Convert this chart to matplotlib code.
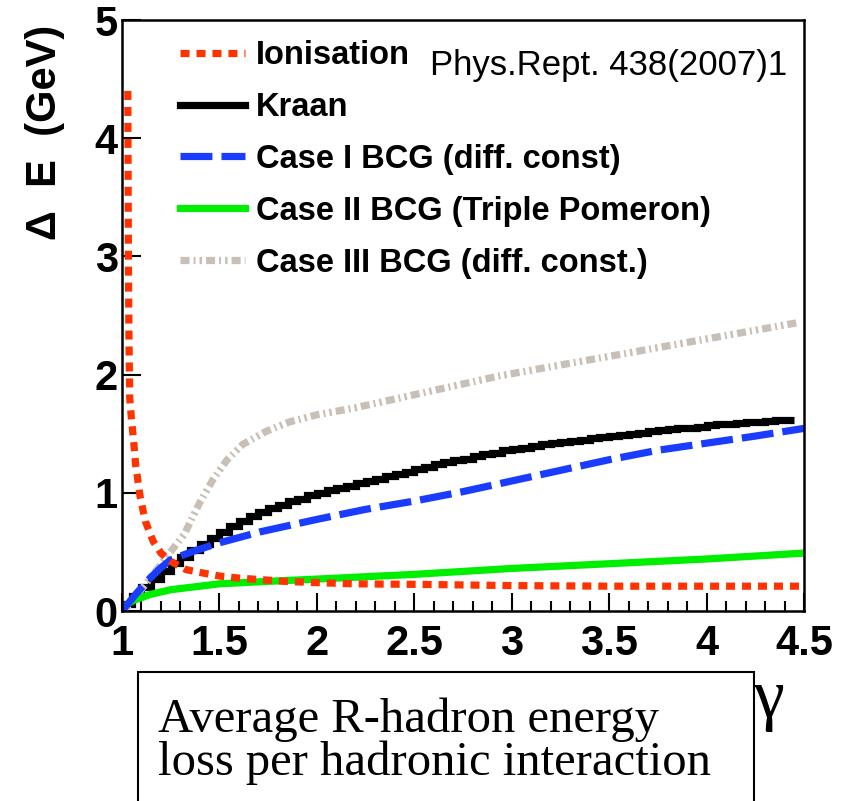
import numpy as np
import matplotlib
matplotlib.use("Agg")
import matplotlib.pyplot as plt
from matplotlib.lines import Line2D
from matplotlib.patches import Rectangle

plt.rcParams["lines.scale_dashes"] = False

SANS = ["Liberation Sans", "DejaVu Sans"]
SERIF = ["Liberation Serif", "DejaVu Serif"]

# --- data ---
ion_x = [1.03, 1.033, 1.036, 1.04, 1.05, 1.06, 1.07, 1.094, 1.12, 1.16, 1.2,
         1.25, 1.33, 1.42, 1.5, 1.59, 1.67, 1.845, 2.0, 2.19, 2.53, 3.0,
         3.5, 4.0, 4.5]
ion_y = [4.4, 3.0, 2.3, 1.8, 1.6, 1.44, 1.24, 0.96, 0.76, 0.59, 0.49,
         0.42, 0.35, 0.32, 0.296, 0.28, 0.27, 0.25, 0.24, 0.23, 0.225, 0.215,
         0.21, 0.21, 0.21]

# Kraan histogram, 0.05 wide bins from 1.0 to 4.45
kraan_edges = np.linspace(1.0, 4.45, 70)
kraan_vals = [0.06, 0.13, 0.20, 0.27, 0.34, 0.41, 0.46, 0.52, 0.57, 0.62,
              0.67, 0.72, 0.76, 0.80, 0.84, 0.87, 0.90, 0.93, 0.95, 0.98,
              1.00, 1.02, 1.04, 1.06, 1.08, 1.10, 1.12, 1.14, 1.16, 1.18,
              1.20, 1.22, 1.24, 1.26, 1.28, 1.29, 1.31, 1.33, 1.34, 1.36,
              1.37, 1.38, 1.40, 1.41, 1.42, 1.43, 1.44, 1.45, 1.46, 1.47,
              1.48, 1.49, 1.50, 1.51, 1.52, 1.53, 1.54, 1.55, 1.55, 1.56,
              1.57, 1.58, 1.58, 1.59, 1.60, 1.60, 1.61, 1.62, 1.62]

case1_x = [1.0, 1.077, 1.145, 1.196, 1.247, 1.3, 1.37, 1.5, 1.71, 2.0,
           2.25, 2.5, 2.75, 3.0, 3.25, 3.5, 3.75, 4.0, 4.25, 4.5]
case1_y = [0.0, 0.154, 0.28, 0.36, 0.43, 0.465, 0.507, 0.577, 0.67, 0.775,
           0.86, 0.93, 1.01, 1.10, 1.19, 1.28, 1.36, 1.42, 1.48, 1.545]

case2_x = [1.0, 1.06, 1.094, 1.145, 1.25, 1.4, 1.5, 1.74, 2.0, 2.5, 3.0,
           3.5, 4.0, 4.5]
case2_y = [0.03, 0.09, 0.11, 0.14, 0.18, 0.21, 0.23, 0.25, 0.27, 0.31,
           0.36, 0.40, 0.44, 0.49]

case3_x = [1.0, 1.017, 1.094, 1.16, 1.23, 1.32, 1.4, 1.47, 1.54, 1.62, 1.74,
           1.86, 2.0, 2.2, 2.5, 2.94, 3.45, 3.96, 4.47]
case3_y = [0.0, 0.014, 0.17, 0.31, 0.46, 0.65, 0.92, 1.12, 1.28, 1.41, 1.52,
           1.60, 1.66, 1.72, 1.83, 1.99, 2.14, 2.29, 2.44]

labels = ["Ionisation", "Kraan", "Case I BCG (diff. const)",
          "Case II BCG (Triple Pomeron)", "Case III BCG (diff. const.)"]

x_ticks = [1, 1.5, 2, 2.5, 3, 3.5, 4, 4.5]
x_ticklabels = ["1", "1.5", "2", "2.5", "3", "3.5", "4", "4.5"]
y_ticks = [0, 1, 2, 3, 4, 5]

# --- styles ---
RED = "#ff3300"
BLUE = "#1a3cff"
GREEN = "#00ee00"
GRAY = "#c8bfb6"
LW = 5.2
red_dash = (0, (6.5, 5.0))
blue_dash = (0, (23.0, 6.5))
gray_dash = (0, (6.5, 2.9, 1.4, 2.9, 1.8, 2.9))

fig = plt.figure(figsize=(8.44, 8.01), dpi=100)
ax = fig.add_axes([0.1445, 0.2372, 0.8081, 0.7378])

ax.plot(case3_x, case3_y, color=GRAY, lw=LW, linestyle=gray_dash)
ax.plot(case2_x, case2_y, color=GREEN, lw=LW)
ax.stairs(kraan_vals, kraan_edges, baseline=None, color="black", lw=LW)
ax.plot(case1_x, case1_y, color=BLUE, lw=LW, linestyle=blue_dash)
ax.plot(ion_x, ion_y, color=RED, lw=LW, linestyle=red_dash)

ax.set_xlim(1, 4.5)
ax.set_ylim(0, 5)
ax.set_xticks(x_ticks)
ax.set_xticklabels(x_ticklabels)
ax.set_xticks(np.arange(1.1, 4.5, 0.1), minor=True)
ax.set_yticks(y_ticks)
ax.tick_params(axis="x", which="major", direction="in", length=13, width=1.5,
               pad=9, labelsize=30)
ax.tick_params(axis="x", which="minor", direction="in", length=7, width=1.5)
ax.tick_params(axis="y", which="major", direction="in", length=14, width=1.5,
               pad=3, labelsize=30)
for lab in ax.get_xticklabels() + ax.get_yticklabels():
    lab.set_family(SANS)
    lab.set_weight("bold")
for sp in ax.spines.values():
    sp.set_linewidth(1.8)

handles = [
    Line2D([], [], color=RED, lw=LW, linestyle=red_dash),
    Line2D([], [], color="black", lw=LW),
    Line2D([], [], color=BLUE, lw=LW, linestyle=blue_dash),
    Line2D([], [], color=GREEN, lw=LW),
    Line2D([], [], color=GRAY, lw=LW, linestyle=gray_dash),
]
ax.legend(handles, labels, loc="upper left", bbox_to_anchor=(0.085, 0.966),
          frameon=False, borderpad=0, borderaxespad=0, handlelength=2.0,
          handletextpad=0.34, labelspacing=0.64,
          prop={"family": SANS, "weight": "bold", "size": 23.5})

fig.text(430 / 844, 1 - 75 / 801, "Phys.Rept. 438(2007)1", family=SANS,
         fontsize=25, va="baseline", ha="left")

fig.text(45 / 844, 0.835, "\u0394  E  (GeV)", rotation=90, family=SANS,
         weight="bold", fontsize=30, ha="center", va="center")

fig.text(0.91, 0.126, "\u03b3", family=SERIF, fontsize=50,
         ha="center", va="center")

fig.patches.append(Rectangle((138 / 844, -0.05), 616 / 844, 0.211,
                             transform=fig.transFigure, fill=False,
                             lw=1.5, edgecolor="black"))
fig.text(158 / 844, 1 - 732 / 801, "Average R-hadron energy", family=SERIF,
         fontsize=35, va="baseline", ha="left")
fig.text(158 / 844, 1 - 775 / 801, "loss per hadronic interaction",
         family=SERIF, fontsize=35, va="baseline", ha="left")

fig.savefig("out.png", dpi=100)
